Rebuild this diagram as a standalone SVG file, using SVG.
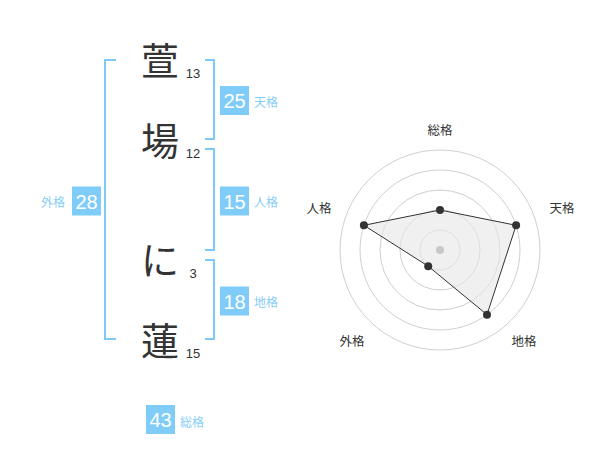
<svg xmlns="http://www.w3.org/2000/svg" width="600" height="470" viewBox="0 0 600 470">
<style>
.ch{font-family:"Noto Sans CJK JP",sans-serif;font-size:38px;fill:#333;text-anchor:middle}
.st{font-family:"Liberation Sans",Arial,sans-serif;font-size:13px;fill:#333;text-anchor:middle}
.box{fill:#7fccf9}
.bn{font-family:"Liberation Sans",Arial,sans-serif;font-size:20px;fill:#fff;text-anchor:middle}
.lb{font-family:"Noto Sans CJK JP",sans-serif;font-size:12px;fill:#86cdf6}
.br{fill:none;stroke:#7fc9f7;stroke-width:2}
.ring{fill:none;stroke:#cfcfcf;stroke-width:1}
.rl{font-family:"Noto Sans CJK JP",sans-serif;font-size:12.5px;fill:#333;text-anchor:middle}
.dot{fill:#333}
</style>
<rect width="600" height="470" fill="#fff"/>
<g id="connectors">
<path class="br" d="M116,60 H105 V339 H116"/>
<path class="br" d="M205,60 H214 V139 H205"/>
<path class="br" d="M205,149 H214 V250 H205"/>
<path class="br" d="M205,260 H214 V339 H205"/>
</g>
<g id="char1"><text class="ch" x="160" y="75">萱</text><text class="st" x="193" y="78">13</text></g>
<g id="char2"><text class="ch" x="160" y="155">場</text><text class="st" x="193" y="158">12</text></g>
<g id="char3"><text class="ch" x="160" y="274">に</text><text class="st" x="193" y="278">3</text></g>
<g id="char4"><text class="ch" x="160" y="355">蓮</text><text class="st" x="193" y="358">15</text></g>
<g id="tenkaku"><rect class="box" x="220" y="86" width="29" height="29"/><text class="bn" x="234.5" y="108">25</text><text class="lb" x="254" y="107">天格</text></g>
<g id="jinkaku"><rect class="box" x="220" y="186.5" width="29" height="29"/><text class="bn" x="234.5" y="208.5">15</text><text class="lb" x="254" y="207">人格</text></g>
<g id="chikaku"><rect class="box" x="220" y="286.5" width="29" height="29"/><text class="bn" x="234.5" y="308.5">18</text><text class="lb" x="254" y="307">地格</text></g>
<g id="gaikaku"><rect class="box" x="72" y="186.5" width="29" height="29"/><text class="bn" x="86.5" y="208.5">28</text><text class="lb" x="41" y="207">外格</text></g>
<g id="soukaku"><rect class="box" x="146" y="405" width="29" height="29"/><text class="bn" x="160.5" y="427">43</text><text class="lb" x="180" y="427">総格</text></g>
<g id="radar">
<circle class="ring" cx="440" cy="250" r="20"/>
<circle class="ring" cx="440" cy="250" r="40"/>
<circle class="ring" cx="440" cy="250" r="60"/>
<circle class="ring" cx="440" cy="250" r="80"/>
<circle class="ring" cx="440" cy="250" r="100"/>
<polygon points="440,210 516.1,225.3 487,314.7 428.2,266.2 363.9,225.3" fill="#e6e6e6" fill-opacity="0.6" stroke="#333" stroke-width="1"/>
<circle cx="440" cy="250" r="4" fill="#c8c8c8"/>
<circle class="dot" cx="440" cy="210" r="4"/>
<circle class="dot" cx="516.1" cy="225.3" r="4"/>
<circle class="dot" cx="487" cy="314.7" r="4"/>
<circle class="dot" cx="428.2" cy="266.2" r="4"/>
<circle class="dot" cx="363.9" cy="225.3" r="4"/>
<text class="rl" x="440" y="135">総格</text>
<text class="rl" x="562" y="212.5">天格</text>
<text class="rl" x="524" y="346">地格</text>
<text class="rl" x="352" y="346">外格</text>
<text class="rl" x="319" y="212.5">人格</text>
</g>
</svg>
